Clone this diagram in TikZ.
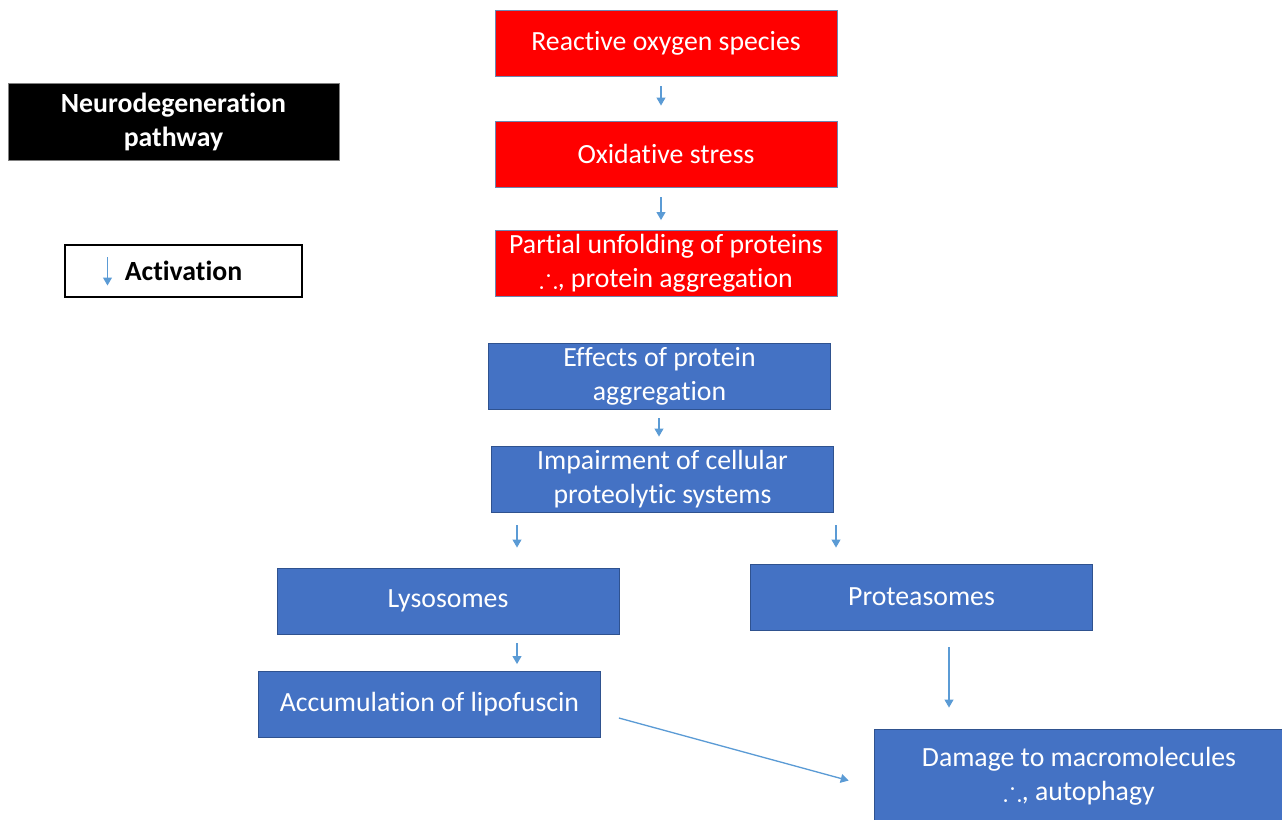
\documentclass[tikz,border=0pt]{standalone}
\usepackage{amssymb}
\usepackage{fontspec}
\setmainfont{Carlito}[Script=Latin,RawFeature={-liga;-clig;-calt;-dlig}]
\usetikzlibrary{arrows.meta,positioning,calc}

\definecolor{rosred}{HTML}{FF0000}
\definecolor{pathblue}{HTML}{4472C4}
\definecolor{pathedge}{HTML}{2F528F}
\definecolor{actblue}{HTML}{5B9BD5}

\begin{document}
\begin{tikzpicture}[
      x=0.02cm, y=-0.02cm,
      every node/.style={font=\fontsize{15.8}{19.3}\selectfont, align=center},
      redbox/.style={
        rectangle,
        draw=pathedge!70,
        line width=0.5pt,
        fill=rosred,
        text=white,
        minimum width=6.84cm,
        minimum height=1.32cm,
        inner sep=0pt
      },
      bluebox/.style={
        redbox,
        draw=pathedge,
        fill=pathblue
      },
      act/.style={
        draw=actblue,
        line width=0.75pt,
        -{Triangle[length=4.5pt,width=5pt]}
      }
    ]

    \useasboundingbox (0,0) rectangle (1282,819);

    % Title and legend
    \node[rectangle, fill=black, draw=gray, text=white, font=\fontsize{15.8}{19.3}\selectfont\bfseries,
          minimum width=6.62cm, minimum height=1.54cm, inner sep=0pt] (title) at (173.5,121.5)
          {Neurodegeneration\\pathway};
    \node[rectangle, draw=black, line width=0.6pt, font=\fontsize{15.8}{19.3}\selectfont\bfseries,
          minimum width=4.74cm, minimum height=1.04cm, inner sep=0pt] (legend) at (183.5,271)
          {Activation};

    % Oxidative part (red)
    \node[redbox] (ros) at (666,43)  {Reactive oxygen species};
    \node[redbox] (ox)  at (666,154) {Oxidative stress};
    \node[redbox] (unf) at (666,263.5) {Partial unfolding of proteins\\$\therefore$, protein aggregation};

    % Proteolytic part (blue)
    \node[bluebox] (eff)  at (659.5,376) {Effects of protein\\aggregation};
    \node[bluebox] (imp)  at (662.5,479) {Impairment of cellular\\proteolytic systems};
    \node[bluebox] (lys)  at (448,601)   {Lysosomes};
    \node[bluebox] (prot) at (921.5,597) {Proteasomes};
    \node[bluebox] (acc)  at (429.5,704.5) {Accumulation of lipofuscin};
    \node[bluebox, minimum width=8.2cm, minimum height=1.88cm] (dam) at (1079,776)
          {Damage to macromolecules\\$\therefore$, autophagy};

    % Arrow x positions
    \coordinate (topx)  at (661,0);
    \coordinate (effx)  at (659,0);
    \coordinate (leftx) at (517,0);
    \coordinate (rgtx)  at (836,0);
    \coordinate (damx)  at (949,0);

    % Arrows
    \draw[act, shorten <=0.2cm, shorten >=0.3cm] (ros.south -| topx) -- (ox.north -| topx);
    \draw[act, shorten <=0.2cm, shorten >=0.2cm] (ox.south -| topx) -- (unf.north -| topx);
    \draw[act, shorten <=0.18cm, shorten >=0.18cm] (eff.south -| effx) -- (imp.north -| effx);
    \draw[act, shorten <=0.26cm, shorten >=0.4cm] (imp.south -| leftx) -- (lys.north -| leftx);
    \draw[act, shorten <=0.26cm, shorten >=0.32cm] (imp.south -| rgtx) -- (prot.north -| rgtx);
    \draw[act, shorten <=0.18cm, shorten >=0.14cm] (lys.south -| leftx) -- (acc.north -| leftx);
    \draw[act, shorten <=0.34cm, shorten >=0.42cm] (prot.south -| damx) -- (dam.north -| damx);
    \draw[act] ([xshift=0.36cm,yshift=-0.27cm]acc.east) -- ([xshift=-0.5cm,yshift=-1.04cm]dam.north west);

    % Legend arrow
    \draw[act] ([xshift=0.86cm,yshift=-0.26cm]legend.north west) -- ([xshift=0.86cm,yshift=0.24cm]legend.south west);

    \end{tikzpicture}
\end{document}
